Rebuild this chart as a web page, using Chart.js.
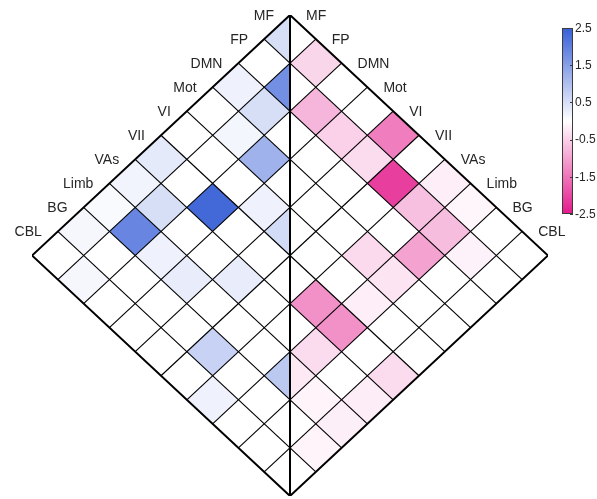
<!DOCTYPE html>
<html>
<head>
<meta charset="utf-8">
<script src="https://cdn.jsdelivr.net/npm/chart.js@4.4.1/dist/chart.umd.min.js"></script>
<style>
  html, body { margin: 0; padding: 0; background: #fff; }
  #wrap { width: 597px; height: 499px; }
</style>
</head>
<body>
<div id="wrap"><canvas id="matrix-chart"></canvas></div>
<script>
const networks = ["MF", "FP", "DMN", "Mot", "VI", "VII", "VAs", "Limb", "BG", "CBL"];

// left half: row i holds columns j = 0..i (diagonal last)
const posEffect = [
  [0.5],
  [0, 1.75],
  [0.2, 0.5, 0],
  [0, 0.14, 1.2, 0],
  [0, 0, 0, 0.2, 0.55],
  [0.33, 0, 2.35, 0, 0, 0],
  [0.17, 0.5, 0, 0, 0.28, 0, 0],
  [0.08, 1.9, 0.2, 0.28, 0, 0, 0, 0.85],
  [0.12, 0, 0, 0, 0, 0.7, 0, 0, 0],
  [0, 0.12, 0, 0, 0, 0, 0.2, 0, 0, 0],
];

// right half: row i holds columns j = i..9 (diagonal first)
const negEffect = [
  [0, -0.45, 0, 0, -1.4, 0, -0.18, -0.1, 0, 0],
  [0, -0.8, -0.5, -0.38, -2.1, -0.68, -0.72, -0.14, 0],
  [0, 0, 0, 0, 0, -1.0, 0, 0],
  [0, 0, 0, -0.4, -0.29, 0, 0],
  [0, 0, 0, -0.18, 0, 0],
  [0, -1.2, -1.2, 0, -0.38],
  [0, -0.38, 0, -0.2],
  [-0.24, -0.12, -0.17],
  [0, -0.12],
  [0],
];

const cbTicks = [2.5, 1.5, 0.5, -0.5, -1.5, -2.5];
const cbLimit = 2.5;
const posColor = [55, 95, 215];
const negColor = [228, 25, 140];

(function startFunction() {
  matrixChart();
})();

function valueColor(v) {
  const t = Math.min(1, Math.abs(v) / cbLimit);
  const c = v >= 0 ? posColor : negColor;
  const rgb = c.map((r) => Math.round(255 + (r - 255) * t));
  return `rgb(${rgb[0]}, ${rgb[1]}, ${rgb[2]})`;
}

function corner(u, v) {
  return { x: v - u, y: u + v };
}

function matrixChart() {
  const n = networks.length;
  let datasets = [];

  function addFill(points, value) {
    datasets.push({
      data: points.concat([points[0]]),
      backgroundColor: valueColor(value),
      borderColor: "rgba(0,0,0,0)",
      borderWidth: 0,
      fill: "shape",
      order: 3,
    });
  }

  function addLine(points, width) {
    datasets.push({
      data: points,
      borderColor: "#000",
      borderWidth: width,
      borderJoinStyle: "miter",
      fill: false,
      order: width > 1.5 ? 1 : 2,
    });
  }

  for (let i = 0; i < n; i++) {
    for (let j = 0; j <= i; j++) {
      const v = posEffect[i][j];
      if (i == j) addFill([corner(i, i), corner(i + 1, i), corner(i + 1, i + 1)], v);
      else addFill([corner(i, j), corner(i, j + 1), corner(i + 1, j + 1), corner(i + 1, j)], v);
    }
    for (let j = i; j < n; j++) {
      const v = negEffect[i][j - i];
      if (i == j) addFill([corner(i, i), corner(i, i + 1), corner(i + 1, i + 1)], v);
      else addFill([corner(i, j), corner(i, j + 1), corner(i + 1, j + 1), corner(i + 1, j)], v);
    }
  }

  for (let k = 1; k < n; k++) {
    addLine([corner(k, 0), corner(k, n)], 1.15);
    addLine([corner(0, k), corner(n, k)], 1.15);
  }
  addLine([corner(0, 0), corner(n, n)], 2);
  addLine([corner(n, 0), corner(0, 0), corner(0, n), corner(n, n), corner(n, 0), corner(0, 0)], 2);

  const labelPlugin = {
    id: "matrixLabels",
    afterDraw(chart) {
      const ctx = chart.ctx;
      const xs = chart.scales.x;
      const ys = chart.scales.y;
      ctx.save();
      ctx.fillStyle = "#262626";
      ctx.textBaseline = "middle";
      ctx.font = "14px 'Liberation Sans', Arial, sans-serif";
      networks.forEach((name, k) => {
        const l = corner(k, 0);
        ctx.textAlign = "right";
        ctx.fillText(name, xs.getPixelForValue(l.x) - 16, ys.getPixelForValue(l.y) + 1);
        const r = corner(0, k);
        ctx.textAlign = "left";
        ctx.fillText(name, xs.getPixelForValue(r.x) + 16, ys.getPixelForValue(r.y) + 1);
      });

      // colorbar
      const cb = { left: 562, right: 573, top: 28, bottom: 214 };
      const grad = ctx.createLinearGradient(0, cb.top, 0, cb.bottom);
      grad.addColorStop(0, valueColor(cbLimit));
      grad.addColorStop(0.5, valueColor(0));
      grad.addColorStop(1, valueColor(-cbLimit));
      ctx.fillStyle = grad;
      ctx.fillRect(cb.left, cb.top, cb.right - cb.left, cb.bottom - cb.top);
      ctx.strokeStyle = "#3c3c3c";
      ctx.lineWidth = 1;
      ctx.strokeRect(cb.left + 0.5, cb.top + 0.5, cb.right - cb.left - 1, cb.bottom - cb.top - 1);

      ctx.font = "12px 'Liberation Sans', Arial, sans-serif";
      ctx.fillStyle = "#262626";
      ctx.textAlign = "left";
      cbTicks.forEach((t) => {
        const y = cb.top + ((cbLimit - t) / (2 * cbLimit)) * (cb.bottom - cb.top);
        ctx.beginPath();
        ctx.moveTo(cb.right - 3, Math.round(y) + 0.5);
        ctx.lineTo(cb.right, Math.round(y) + 0.5);
        ctx.stroke();
        ctx.fillText(String(t), cb.right + 2, y + 0.5);
      });
      ctx.restore();
    },
  };

  const ctx = document.getElementById("matrix-chart").getContext("2d");
  new Chart(ctx, {
    type: "scatter",
    plugins: [labelPlugin],
    data: { datasets: datasets },
    options: {
      responsive: true,
      maintainAspectRatio: false,
      animation: false,
      showLine: true,
      layout: { padding: { left: 32, right: 49, top: 15, bottom: 3 } },
      elements: { point: { radius: 0, hitRadius: 0, hoverRadius: 0 } },
      plugins: {
        legend: { display: false },
        tooltip: { enabled: false },
      },
      scales: {
        x: { type: "linear", min: -10, max: 10, display: false },
        y: { type: "linear", min: 0, max: 20, reverse: true, display: false },
      },
    },
  });
}
</script>
</body>
</html>
